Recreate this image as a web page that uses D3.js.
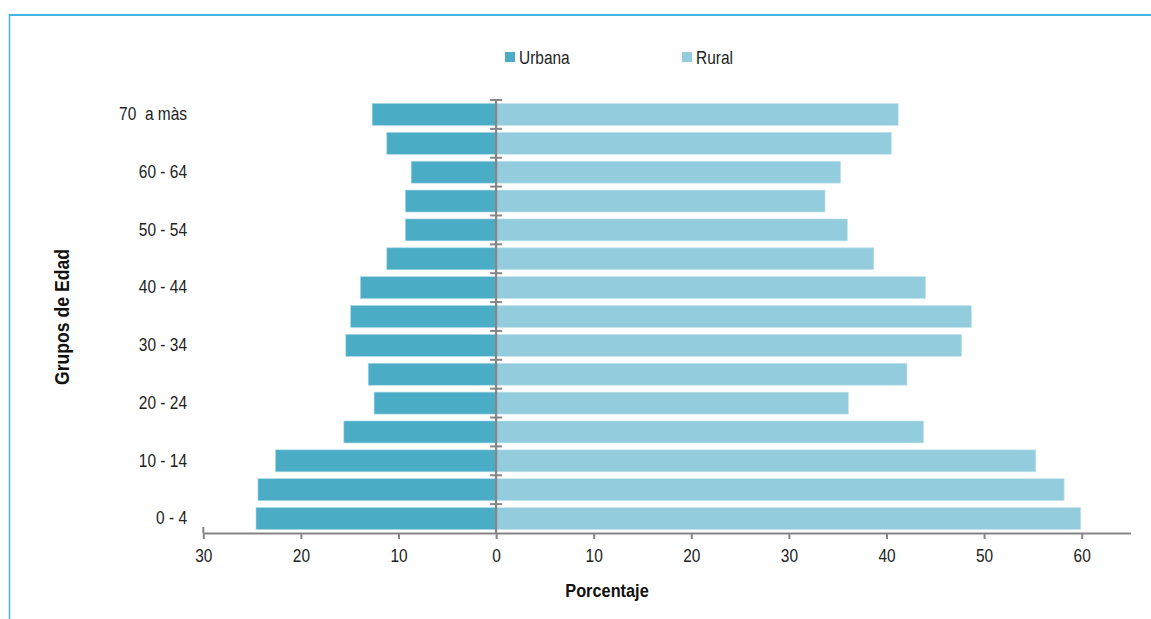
<!DOCTYPE html>
<html><head><meta charset="utf-8">
<script src="https://cdn.jsdelivr.net/npm/d3@7"></script>
<style>
body{margin:0;background:#fff;}
svg{display:block;font-family:"Liberation Sans",Arial,sans-serif;}
</style></head><body>
<svg id="c" width="1151" height="619"></svg>
<script>
const categories = ["0 - 4","5 - 9","10 - 14","15 - 19","20 - 24","25 - 29","30 - 34","35 - 39","40 - 44","45 - 49","50 - 54","55 - 59","60 - 64","65 - 69","70  a màs"];
const urbana = [24.6,24.4,22.6,15.6,12.5,13.1,15.4,14.9,13.9,11.2,9.3,9.3,8.7,11.2,12.7];
const rural  = [59.9,58.2,55.3,43.8,36.1,42.1,47.7,48.7,44.0,38.7,36.0,33.7,35.3,40.5,41.2];
const xTicks = [-30,-20,-10,0,10,20,30,40,50,60];
const seriesNames = ["Urbana","Rural"];
const colors = ["#4BACC6","#93CDDD"];

const svg = d3.select("#c");
const axisColor = "#868686";
const SQ = "scale(0.86,1)";

// frame
svg.append("line").attr("x1",9).attr("x2",1151).attr("y1",15).attr("y2",15).attr("stroke","#3db5e6").attr("stroke-width",2);
svg.append("line").attr("x1",9.5).attr("x2",9.5).attr("y1",14).attr("y2",619).attr("stroke","#3db5e6").attr("stroke-width",1.5);

const x = d3.scaleLinear().domain([-30,65]).range([203.3,1130.5]);
const y = d3.scaleBand().domain(categories).range([533,100]).paddingInner(0.24).paddingOuter(0.12);

// bars
const data = categories.map((c,i)=>({c,u:urbana[i],r:rural[i]}));
svg.append("g").selectAll("rect").data(data).join("rect")
  .attr("x",d=>x(-d.u)).attr("width",d=>x(0)-x(-d.u))
  .attr("y",d=>y(d.c)).attr("height",y.bandwidth())
  .attr("fill",colors[0]).attr("stroke","#a8d8e5").attr("stroke-width",0.6);
svg.append("g").selectAll("rect").data(data).join("rect")
  .attr("x",x(0)).attr("width",d=>x(d.r)-x(0))
  .attr("y",d=>y(d.c)).attr("height",y.bandwidth())
  .attr("fill",colors[1]).attr("stroke","#c4e4ee").attr("stroke-width",0.6);

// x axis
const xAxis = d3.axisBottom(x).tickValues(xTicks).tickFormat(d=>Math.abs(d)).tickSizeInner(6).tickSizeOuter(0).tickPadding(10);
const gx = svg.append("g").attr("transform","translate(0,533)").call(xAxis);
gx.select(".domain").attr("stroke",axisColor).attr("stroke-width",2);
gx.selectAll(".tick line").attr("stroke",axisColor).attr("stroke-width",2);
gx.selectAll(".tick text").attr("fill","#222").style("font-size","18px").attr("transform",SQ);
svg.append("line").attr("x1",x(-30)).attr("x2",x(-30)).attr("y1",527).attr("y2",533).attr("stroke",axisColor).attr("stroke-width",2);

// central vertical axis with band-boundary ticks
const x0 = x(0);
const half = y.step()*y.paddingInner()/2;
svg.append("line").attr("x1",x0).attr("x2",x0).attr("y1",y(categories[categories.length-1])-half).attr("y2",533)
  .attr("stroke",axisColor).attr("stroke-width",2.2);
svg.append("g").selectAll("line").data(categories.slice(1)).join("line")
  .attr("x1",x0-6).attr("x2",x0+6)
  .attr("y1",d=>y(d)+y.bandwidth()+half).attr("y2",d=>y(d)+y.bandwidth()+half)
  .attr("stroke",axisColor).attr("stroke-width",2);
svg.append("line").attr("x1",x0-6).attr("x2",x0+6)
  .attr("y1",y(categories[categories.length-1])-half).attr("y2",y(categories[categories.length-1])-half)
  .attr("stroke",axisColor).attr("stroke-width",2);

// y labels
const yAxis = d3.axisLeft(y).tickValues(categories.filter((c,i)=>i%2===0)).tickSize(0).tickPadding(0);
const gy = svg.append("g").attr("transform","translate(187,0)").call(yAxis);
gy.select(".domain").remove();
gy.selectAll(".tick text").attr("fill","#222").style("font-size","18px").style("white-space","pre").attr("transform",SQ);

// axis titles
svg.append("text").attr("transform","translate(607,597) scale(0.86,1)").attr("text-anchor","middle")
  .style("font-size","19px").style("font-weight","bold").attr("fill","#111").text("Porcentaje");
svg.append("text").attr("transform","translate(69,317) rotate(-90) scale(0.88,1)").attr("text-anchor","middle")
  .style("font-size","20px").style("font-weight","bold").attr("fill","#111").text("Grupos de Edad");

// legend
const legX = [505,682];
const lg = svg.append("g").selectAll("g").data(seriesNames).join("g")
  .attr("transform",(d,i)=>`translate(${legX[i]},52)`);
lg.append("rect").attr("width",10).attr("height",10).attr("fill",(d,i)=>colors[i]);
lg.append("text").attr("transform","translate(14,12) scale(0.86,1)").style("font-size","18px").attr("fill","#222").text(d=>d);
</script>
</body></html>
